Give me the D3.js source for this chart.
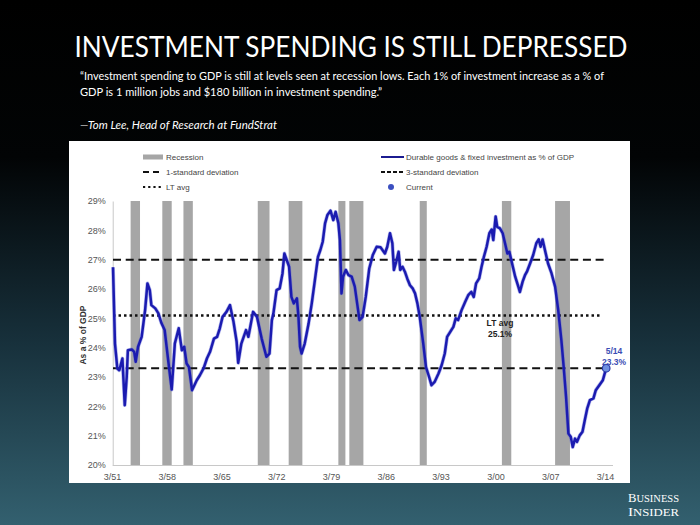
<!DOCTYPE html>
<html><head><meta charset="utf-8">
<script src="https://cdn.jsdelivr.net/npm/d3@7"></script>
<style>html,body{margin:0;padding:0;background:#000;}svg{display:block;}</style>
</head><body>
<script>
// ---- data ----
const dates = [1951.3,1951.55,1951.85,1952.1,1952.5,1952.8,1953.05,1953.2,1953.7,1954.0,1954.2,1954.5,1954.96,1955.4,1955.7,1956.0,1956.2,1956.7,1957.1,1957.5,1957.9,1958.4,1958.8,1959.2,1959.7,1960.1,1960.4,1960.7,1961.0,1961.4,1962.0,1962.4,1962.9,1963.3,1963.7,1964.2,1964.6,1964.95,1965.3,1965.8,1966.25,1966.7,1967.1,1967.3,1967.7,1968.3,1968.6,1969.2,1969.7,1970.3,1970.9,1971.3,1971.6,1971.8,1972.2,1972.6,1972.96,1973.2,1973.5,1973.8,1974.1,1974.4,1974.8,1975.0,1975.2,1975.4,1975.8,1976.3,1976.7,1977.1,1977.5,1977.8,1978.1,1978.4,1978.7,1979.1,1979.45,1979.75,1980.1,1980.3,1980.5,1980.7,1981.05,1981.4,1981.8,1982.2,1982.5,1982.8,1983.2,1983.6,1984.05,1984.5,1985.0,1985.5,1986.05,1986.35,1986.7,1987.0,1987.2,1987.5,1987.8,1988.0,1988.3,1988.6,1988.9,1989.25,1989.6,1989.9,1990.2,1990.5,1990.95,1991.3,1991.7,1992.0,1992.4,1992.9,1993.3,1993.7,1994.0,1994.4,1994.8,1995.1,1995.4,1995.85,1996.3,1996.7,1997.1,1997.4,1997.7,1998.1,1998.4,1998.7,1999.05,1999.4,1999.7,1999.9,2000.2,2000.4,2000.75,2001.1,2001.4,2001.7,2001.95,2002.25,2002.7,2003.1,2003.3,2003.65,2003.95,2004.2,2004.6,2005.0,2005.4,2005.7,2005.95,2006.2,2006.5,2006.9,2007.35,2007.8,2008.2,2008.6,2008.9,2009.2,2009.5,2009.8,2010.05,2010.35,2010.6,2010.95,2011.3,2011.6,2011.9,2012.25,2012.7,2013.0,2013.45,2013.9,2014.33];
const values = [26.74,24.14,23.29,23.23,23.63,22.04,23.0,23.91,23.94,23.86,23.52,24.03,24.37,25.28,26.19,25.96,25.45,25.34,25.17,24.83,24.6,23.46,22.57,24.14,24.66,23.91,24.03,23.46,23.34,22.55,22.89,23.06,23.31,23.63,23.86,24.31,24.37,24.66,25.05,25.22,25.45,24.88,24.2,23.48,24.14,24.6,24.37,25.22,25.05,24.31,23.69,23.8,24.94,25.17,25.96,26.02,26.53,27.21,26.99,26.76,25.73,25.51,25.68,25.05,24.03,23.8,24.14,24.83,25.51,26.3,27.1,27.33,27.61,28.24,28.52,28.67,28.35,28.63,28.24,27.67,25.85,26.42,26.65,26.47,26.42,26.08,25.51,24.94,25.05,25.73,26.7,27.16,27.44,27.42,27.21,27.44,27.9,27.56,26.65,26.93,27.27,26.65,26.76,26.59,26.36,26.13,26.02,25.85,25.51,25.05,24.14,23.34,23.0,22.72,22.83,23.12,23.4,23.8,24.37,24.54,24.71,25.0,24.94,25.28,25.56,25.79,25.9,25.73,26.19,26.36,26.76,27.1,27.44,27.9,28.03,27.67,28.47,28.12,28.07,27.9,27.56,27.21,27.27,26.93,26.42,26.08,25.9,26.25,26.47,26.59,26.87,27.16,27.56,27.69,27.44,27.69,27.33,26.87,26.53,26.08,25.28,24.26,23.34,22.32,21.07,20.96,20.61,20.9,20.79,21.01,21.13,21.53,21.92,22.21,22.27,22.55,22.72,22.89,23.3];
const recessions = [[1953.55,1954.75],[1957.6,1958.8],[1960.3,1961.5],[1969.8,1971.3],[1973.75,1975.5],[1980.1,1981.0],[1981.5,1983.3],[1990.5,1991.4],[2001.0,2002.2],[2007.8,2009.7]];
const xTickValues = [1951.17,1958.17,1965.17,1972.17,1979.17,1986.17,1993.17,2000.17,2007.17,2014.17];
const xTickLabels = ["3/51","3/58","3/65","3/72","3/79","3/86","3/93","3/00","3/07","3/14"];
const yTickValues = [20,21,22,23,24,25,26,27,28,29];
const stdUpper = 27.0, stdLower = 23.3, ltAvg = 25.1;
const current = {date: 2014.33, value: 23.3, label: "5/14"};
const titleText = "INVESTMENT SPENDING IS STILL DEPRESSED";
const quoteLines = ["\u201cInvestment spending to GDP is still at levels seen at recession lows. Each 1% of investment increase as a % of",
                    "GDP is 1 million jobs and $180 billion in investment spending.\u201d"];
const attribution = "\u2014Tom Lee, Head of Research at FundStrat";

// ---- drawing ----
const W = 700, H = 525;
const svg = d3.select("body").append("svg").attr("width", W).attr("height", H);
const defs = svg.append("defs");
const bg = defs.append("linearGradient").attr("id","bg").attr("x1",0).attr("y1",0).attr("x2",0).attr("y2",1);
bg.append("stop").attr("offset","0%").attr("stop-color","#000");
bg.append("stop").attr("offset","30%").attr("stop-color","#020405");
bg.append("stop").attr("offset","65%").attr("stop-color","#17303b");
bg.append("stop").attr("offset","100%").attr("stop-color","#33606f");
svg.append("rect").attr("width",W).attr("height",H).attr("fill","url(#bg)");

svg.append("text").attr("x",351).attr("y",57).attr("text-anchor","middle")
  .attr("fill","#fff").style("font-family","Lato, 'Open Sans', sans-serif").style("font-size","28px")
  .attr("textLength",553).attr("lengthAdjust","spacingAndGlyphs").text(titleText);

svg.selectAll("text.quote").data(quoteLines).join("text").attr("class","quote")
  .attr("x",80).attr("y",(d,i)=>80+i*16).attr("fill","#fff")
  .style("font-family","Lato, 'Open Sans', sans-serif").style("font-size","11px")
  .attr("textLength",(d,i)=> i===0 ? 524 : 302).attr("lengthAdjust","spacingAndGlyphs")
  .text(d=>d);
svg.append("text").attr("x",80).attr("y",129).attr("fill","#fff")
  .style("font-family","Lato, 'Open Sans', sans-serif").style("font-size","11px").style("font-style","italic")
  .attr("textLength",197).attr("lengthAdjust","spacingAndGlyphs").text(attribution);

// chart panel
svg.append("rect").attr("x",69).attr("y",141).attr("width",561).attr("height",342).attr("fill","#fff");

const x = d3.scaleLinear().domain([1951.17, 2015.2]).range([112, 613]);
const y = d3.scaleLinear().domain([20, 29]).range([465, 201]);
const font = "'Liberation Sans', Arial, sans-serif";

// recessions
svg.append("g").selectAll("rect").data(recessions).join("rect")
  .attr("x", d=>x(d[0])).attr("width", d=>x(d[1])-x(d[0]))
  .attr("y", y(29)).attr("height", y(20)-y(29)).attr("fill","#a6a6a6");

// axes
const yAxis = d3.axisLeft(y).tickValues(yTickValues).tickSize(0).tickPadding(7).tickFormat(d=>d+"%");
const gy = svg.append("g").attr("transform",`translate(${x(1951.26)},0)`).call(yAxis);
gy.select(".domain").attr("stroke","#c8c8c8");
gy.selectAll("text").attr("fill","#555").style("font-family",font).style("font-size","9px");

const xAxis = d3.axisBottom(x).tickValues(xTickValues).tickSize(0).tickPadding(9)
  .tickFormat((d,i)=>xTickLabels[i]);
const gx = svg.append("g").attr("transform",`translate(0,${y(20)})`).call(xAxis);
gx.select(".domain").attr("stroke","#c8c8c8").attr("d",`M${x(1951.26)},0.5H613`);
gx.selectAll("text").attr("fill","#555").style("font-family",font).style("font-size","9px");

svg.append("text").attr("transform",`translate(86,${(y(20)+y(29))/2+2}) rotate(-90)`)
  .attr("text-anchor","middle").attr("fill","#333").style("font-family",font)
  .style("font-size","8.5px").style("font-weight","bold").text("As a % of GDP");

// reference lines
const x0 = x(dates[0]), x1 = x(current.date);
[stdUpper, stdLower].forEach(v=>{
  svg.append("line").attr("x1",x0).attr("x2",x1).attr("y1",y(v)).attr("y2",y(v))
    .attr("stroke","#111").attr("stroke-width",2).attr("stroke-dasharray","8,4.7");
});
svg.append("line").attr("x1",x0).attr("x2",x1-4).attr("y1",y(ltAvg)).attr("y2",y(ltAvg))
  .attr("stroke","#111").attr("stroke-width",2.5).attr("stroke-dasharray","2.5,3");

// series line
const line = d3.line().x((d,i)=>x(dates[i])).y(d=>y(d)).curve(d3.curveLinear);
svg.append("path").datum(values).attr("d",line).attr("fill","none")
  .attr("stroke","#5a63d8").attr("stroke-width",3.8).attr("stroke-opacity",0.45).attr("stroke-linejoin","round");
svg.append("path").datum(values).attr("d",line).attr("fill","none")
  .attr("stroke","#1b1bb0").attr("stroke-width",2.5).attr("stroke-linejoin","round");

svg.append("circle").attr("cx",x(current.date)).attr("cy",y(current.value)).attr("r",3.8)
  .attr("fill","#6f8fe0").attr("stroke","#2a3aa8").attr("stroke-width",1.2);

// annotations
const ann = svg.append("g").style("font-family",font).style("font-size","8.5px").style("font-weight","bold")
  .attr("text-anchor","middle");
ann.append("text").attr("x",500).attr("y",y(ltAvg)+11).attr("fill","#222").text("LT avg");
ann.append("text").attr("x",500).attr("y",y(ltAvg)+22).attr("fill","#222").text(ltAvg.toFixed(1)+"%");
ann.append("text").attr("x",614).attr("y",y(current.value)-14).attr("fill","#3b4db4").text(current.label);
ann.append("text").attr("x",614).attr("y",y(current.value)-3).attr("fill","#3b4db4").text(current.value.toFixed(1)+"%");

// legend
const lg = svg.append("g").style("font-family",font).style("font-size","8px");
const rows = [157,172,187];
const lx = 143, rx = 381;
lg.append("rect").attr("x",lx).attr("y",rows[0]-2.5).attr("width",20).attr("height",5).attr("fill","#a6a6a6");
lg.append("line").attr("x1",lx).attr("x2",lx+20).attr("y1",rows[1]).attr("y2",rows[1])
  .attr("stroke","#111").attr("stroke-width",2).attr("stroke-dasharray","6,4");
lg.append("line").attr("x1",lx).attr("x2",lx+20).attr("y1",rows[2]).attr("y2",rows[2])
  .attr("stroke","#111").attr("stroke-width",2.2).attr("stroke-dasharray","2.2,3");
lg.append("line").attr("x1",rx).attr("x2",rx+23).attr("y1",rows[0]).attr("y2",rows[0])
  .attr("stroke","#1b1b90").attr("stroke-width",2);
lg.append("line").attr("x1",rx).attr("x2",rx+23).attr("y1",rows[1]).attr("y2",rows[1])
  .attr("stroke","#111").attr("stroke-width",2).attr("stroke-dasharray","4,2");
lg.append("circle").attr("cx",rx+10).attr("cy",rows[2]).attr("r",3).attr("fill","#3b4fc0");
const lt = [["Recession",lx+23,rows[0]],["1-standard deviation",lx+23,rows[1]],["LT avg",lx+23,rows[2]],
            ["Durable goods & fixed investment as % of GDP",rx+25,rows[0]],["3-standard deviation",rx+25,rows[1]],["Current",rx+25,rows[2]]];
lg.selectAll("text").data(lt).join("text").attr("x",d=>d[1]).attr("y",d=>d[2]+3).attr("fill","#444").text(d=>d[0]);

// logo
const logo = svg.append("g").attr("fill","#fff").style("font-family","'Liberation Serif', 'DejaVu Serif', serif");
const t1 = logo.append("text").attr("x",628).attr("y",502).attr("textLength",51).attr("lengthAdjust","spacingAndGlyphs");
t1.append("tspan").style("font-size","11.5px").text("B");
t1.append("tspan").style("font-size","9.5px").text("USINESS");
const t2 = logo.append("text").attr("x",628).attr("y",516).attr("textLength",51).attr("lengthAdjust","spacingAndGlyphs");
t2.append("tspan").style("font-size","11.5px").text("I");
t2.append("tspan").style("font-size","9.5px").text("NSIDER");
</script>
</body></html>
